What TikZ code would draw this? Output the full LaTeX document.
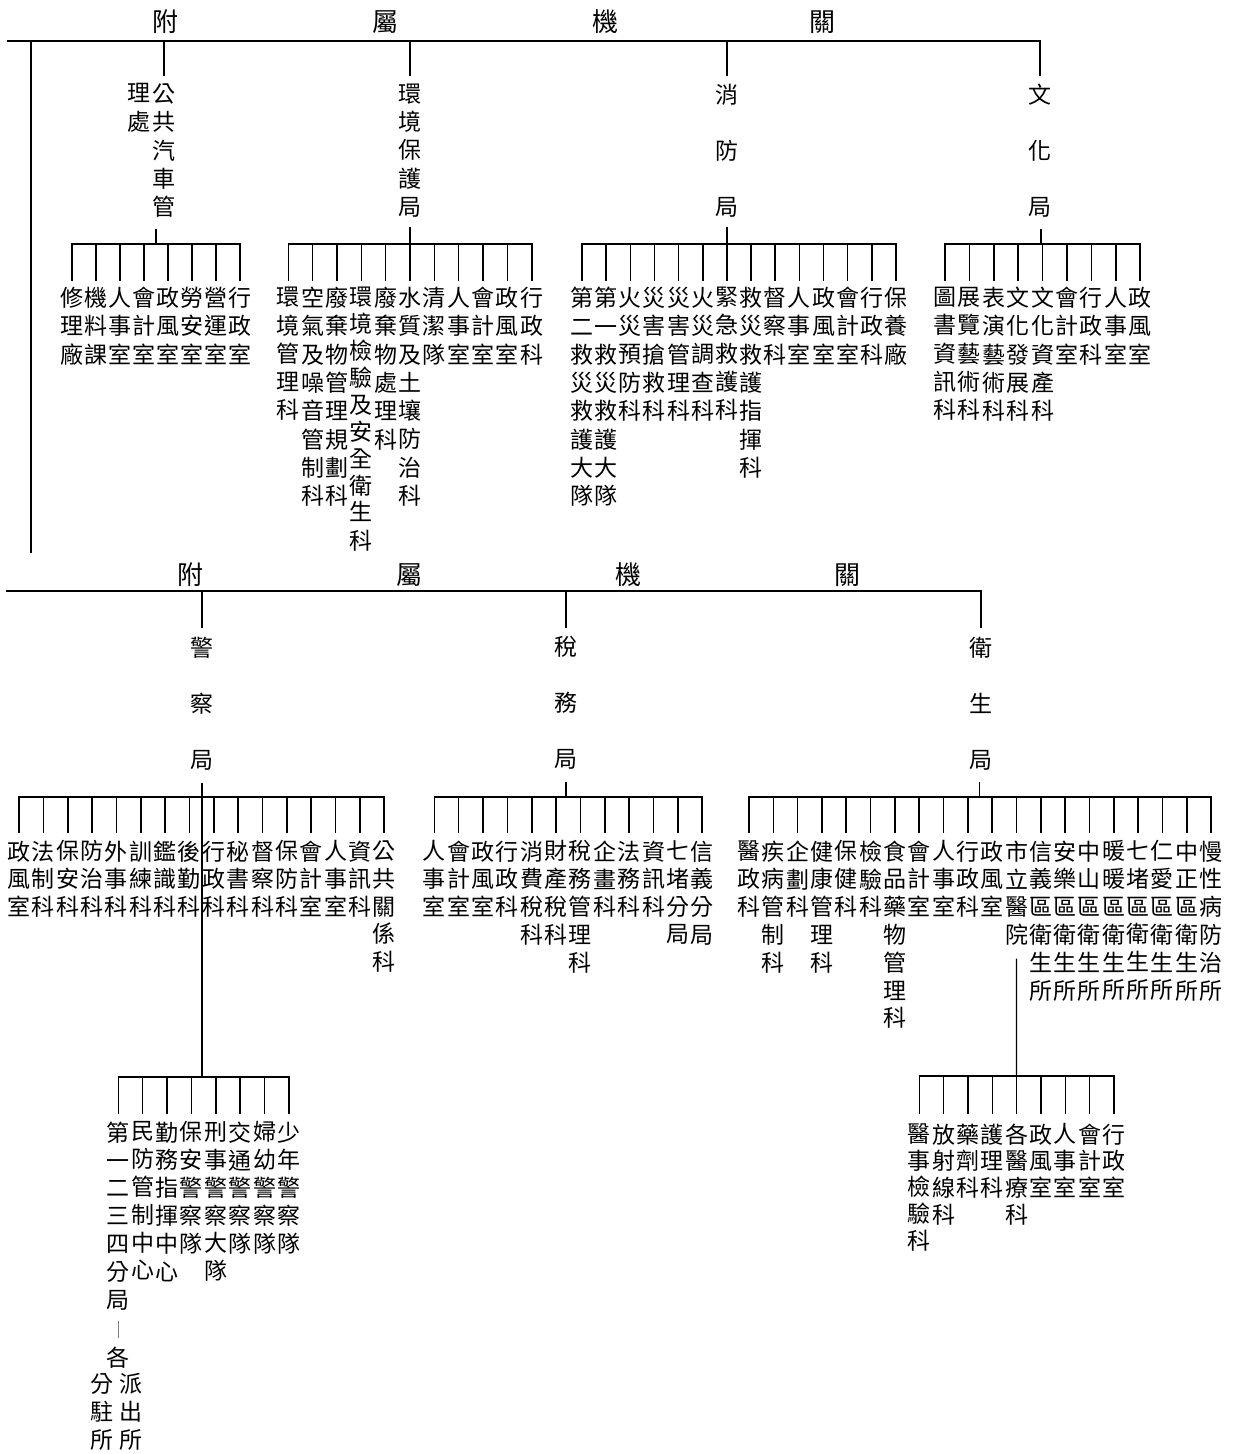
\documentclass[tikz,border=0pt]{standalone}
\usepackage{fontspec}
\newfontfamily\cjk{Noto Sans CJK TC}
\makeatletter
\def\vcolA#1#2\vcolEnd{#1\ifx\relax#2\relax\expandafter\@gobble\else\expandafter\@firstofone\fi{\\\vcolA#2\vcolEnd}}
\newcommand\vcol[1]{\edef\vcoltmp{#1}\expandafter\vcolA\vcoltmp\vcolEnd}
\makeatother
\begin{document}
\begin{tikzpicture}[x=1pt,y=-1pt,
  every node/.style={inner sep=0pt},
  col/.style={anchor=north, text width=30pt, align=center, font=\cjk\fontsize{23}{28.3}\selectfont},
  colm/.style={col, font=\cjk\fontsize{23}{27.8}\selectfont},
  colh/.style={col, font=\cjk\fontsize{23}{26.7}\selectfont},
  head/.style={col, font=\cjk\fontsize{23}{56}\selectfont},
  title/.style={anchor=center, font=\cjk\fontsize{26}{26}\selectfont},
  ln/.style={line width=1.4pt},
  br/.style={line width=1.6pt, line cap=rect},
  spine/.style={line width=2.6pt}]
\fill[white] (0,0) rectangle (1232,1454);
\useasboundingbox (0,0) rectangle (1232,1454);

% ---------- titles
\node[title] (ta1) at (165,22) {附};
\node[title] (ta2) at (385,22) {屬};
\node[title] (ta3) at (605,22) {機};
\node[title] (ta4) at (822,22) {關};
\node[title] (tb1) at (190,575) {附};
\node[title] (tb2) at (409,575) {屬};
\node[title] (tb3) at (628,575) {機};
\node[title] (tb4) at (847,575) {關};

% ---------- top level
\node[col] (gong) at (164,83.5) {\vcol{公共汽車管}};
\node[col] (gong2) at (139,83.5) {\vcol{理處}};
\node[col] (env) at (410,83.5) {\vcol{環境保護局}};
\node[head] (fire) at (727,83.5) {\vcol{消防局}};
\node[head] (cult) at (1040,83.5) {\vcol{文化局}};

\coordinate (L1s) at (7,41);
\coordinate (L1e) at (1040,41);
\draw[ln] (L1s) -- (L1e) -- ([yshift=7.5pt]cult.north);
\foreach \n in {gong,env,fire} \draw[ln] (\n.north |- L1s) -- ([yshift=7.5pt]\n.north);
\coordinate (sp1) at (31,41);
\coordinate (sp2) at (31,553);
\draw[spine] (sp1) -- (sp2);

% 公共汽車管理處
\coordinate (gb) at (156,244); \coordinate (gt) at (156,230);
\draw[br] (gt) -- (gb);
\foreach \lab [count=\i from 0] in {修理廠,機料課,人事室,會計室,政風室,勞安室,營運室,行政室}{
  \node[col] (a\i) at ({71.7+24.05*\i},287) {\vcol{\lab}};
  \draw[br] (a\i.north |- gb) -- ([yshift=7pt]a\i.north);}
\draw[br] (a0.north |- gb) -- (a7.north |- gb);

% 環境保護局
\coordinate (eb) at (410,244); \coordinate (et) at (410,228);
\draw[br] (et) -- (eb);
\foreach \lab [count=\i from 0] in {環境管理科,空氣及噪音管制科,廢棄物管理規劃科,環境檢驗及安全衛生科,廢棄物處理科,水質及土壤防治科,清潔隊,人事室,會計室,政風室,行政科}{
  \node[col] (e\i) at ({288.3+24.34*\i},287) {\ifnum\i=3 \fontsize{23}{26.9}\selectfont\fi\vcol{\lab}};
  \draw[br] (e\i.north |- eb) -- ([yshift=7pt]e\i.north);}
\draw[br] (e0.north |- eb) -- (e10.north |- eb);

% 消防局
\coordinate (fb) at (727,244); \coordinate (ft) at (727,228);
\draw[br] (ft) -- (fb);
\foreach \lab [count=\i from 0] in {第二救災救護大隊,第一救災救護大隊,火災預防科,災害搶救科,災害管理科,火災調查科,緊急救護科,救災救護指揮科,督察科,人事室,政風室,會計室,行政科,保養廠}{
  \node[col] (f\i) at ({582+24.15*\i},287) {\vcol{\lab}};
  \draw[br] (f\i.north |- fb) -- ([yshift=7pt]f\i.north);}
\draw[br] (f0.north |- fb) -- (f13.north |- fb);

% 文化局
\coordinate (cb) at (1041,244); \coordinate (ct) at (1041,230);
\draw[br] (ct) -- (cb);
\foreach \lab [count=\i from 0] in {圖書資訊科,展覽藝術科,表演藝術科,文化發展科,文化資產科,會計室,行政科,人事室,政風室}{
  \node[col] (c\i) at ({945+24.4*\i},287) {\vcol{\lab}};
  \draw[br] (c\i.north |- cb) -- ([yshift=7pt]c\i.north);}
\draw[br] (c0.north |- cb) -- (c8.north |- cb);

% ---------- middle level
\node[head] (pol) at (202,636.5) {\vcol{警察局}};
\node[head] (tax) at (566,636.5) {\vcol{稅務局}};
\node[head] (hea) at (981,636.5) {\vcol{衛生局}};
\coordinate (L2s) at (6,591);
\coordinate (L2e) at (981,591);
\draw[ln] (L2s) -- (L2e) -- ([yshift=8.5pt]hea.north);
\foreach \n in {pol,tax} \draw[ln] (\n.north |- L2s) -- ([yshift=8.5pt]\n.north);

% 警察局
\coordinate (pb) at (202,797); \coordinate (pt) at (202,783); \coordinate (pl) at (202,1077);
\draw[ln] (pt) -- (pl);
\foreach \lab [count=\i from 0] in {政風室,法制科,保安科,防治科,外事科,訓練科,鑑識科,後勤科,行政科,秘書科,督察科,保防科,會計室,人事室,資訊科,公共關係科}{
  \node[colm] (p\i) at ({19+24.35*\i},840.5) {\vcol{\lab}};
  \draw[br] (p\i.north |- pb) -- ([yshift=8.5pt]p\i.north);}
\draw[br] (p0.north |- pb) -- (p15.north |- pb);

% 稅務局
\coordinate (xb) at (566,797); \coordinate (xt) at (566,783);
\draw[br] (xt) -- (xb);
\foreach \lab [count=\i from 0] in {人事室,會計室,政風室,行政科,消費稅科,財產稅科,稅務管理科,企畫科,法務科,資訊科,七堵分局,信義分局}{
  \node[colm] (x\i) at ({434.3+24.36*\i},840.5) {\vcol{\lab}};
  \draw[br] (x\i.north |- xb) -- ([yshift=8.5pt]x\i.north);}
\draw[br] (x0.north |- xb) -- (x11.north |- xb);

% 衛生局
\coordinate (hb) at (979.5,797); \coordinate (ht) at (979.5,783);
\draw[br] (ht) -- (hb);
\foreach \lab [count=\i from 0] in {醫政科,疾病管制科,企劃科,健康管理科,保健科,檢驗科,食品藥物管理科,會計室,人事室,行政科,政風室,市立醫院,信義區衛生所,安樂區衛生所,中山區衛生所,暖暖區衛生所,七堵區衛生所,仁愛區衛生所,中正區衛生所,慢性病防治所}{
  \node[colm] (h\i) at ({749+24.32*\i},840.5) {\vcol{\lab}};
  \draw[br] (h\i.north |- hb) -- ([yshift=8.5pt]h\i.north);}
\draw[br] (h0.north |- hb) -- (h19.north |- hb);

% 市立醫院
\coordinate (sb) at (1016.5,1076);
\draw[ln] ([yshift=-13pt]h11.south) -- (sb);
\foreach \lab [count=\i from 0] in {醫事檢驗科,放射線科,藥劑科,護理科,各醫療科,政風室,人事室,會計室,行政室}{
  \node[colh] (s\i) at ({919.3+24.34*\i},1123.5) {\vcol{\lab}};
  \draw[br] (s\i.north |- sb) -- ([yshift=10.5pt]s\i.north);}
\draw[br] (s0.north |- sb) -- (s8.north |- sb);

% 警察局 units
\foreach \lab [count=\i from 0] in {第一二三四分局,民防管制中心,勤務指揮中心,保安警察隊,刑事警察大隊,交通警察隊,婦幼警察隊,少年警察隊}{
  \node[colm] (q\i) at ({118.3+24.39*\i},1121.5) {\vcol{\lab}};
  \draw[br] (q\i.north |- pl) -- ([yshift=8.5pt]q\i.north);}
\draw[br] (q0.north |- pl) -- (q7.north |- pl);

\node[colm] (ge) at (118.3,1346.5) {各};
\node[colm] (fz) at (102,1373.5) {\vcol{分駐所}};
\node[colm] (pc) at (131,1373.5) {\vcol{派出所}};
\draw[gray, line width=0.8pt] ([yshift=-10.7pt]q0.south) -- ([yshift=8.5pt]ge.north);
\end{tikzpicture}
\end{document}
